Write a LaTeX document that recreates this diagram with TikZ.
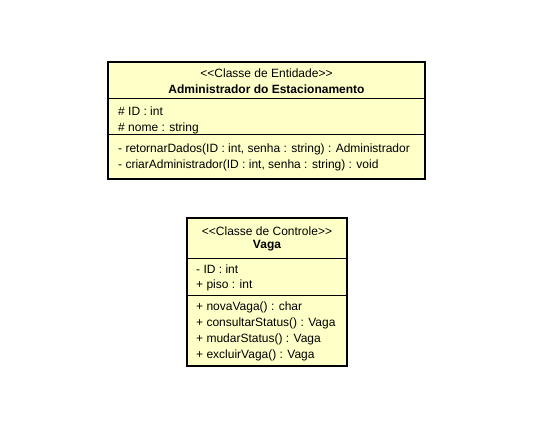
\documentclass[tikz,border=0pt]{standalone}
\usepackage{fontspec}
\setmainfont{Liberation Sans}
\usetikzlibrary{positioning,calc}
\definecolor{umlfill}{HTML}{FFFFC8}
\tikzset{cls/.style={draw=black,fill=umlfill,line width=1.6pt,inner sep=0pt},
 sep/.style={line width=0.8pt},
 ttl/.style={anchor=center,inner sep=0pt,font=\fontsize{12}{14}\selectfont},
 itm/.style={anchor=west,inner sep=0pt,font=\fontsize{12}{14}\selectfont}}

\begin{document}
\begin{tikzpicture}[x=1pt,y=-1pt]
\useasboundingbox(0,0)rectangle(543,431);
% entidade
\node[cls,minimum width=317pt,minimum height=117pt](adm) at(266.5,120.5){};
\draw[sep]($(adm.north west)+(0,37)$)--($(adm.north east)+(0,37)$);
\draw[sep]($(adm.north west)+(0,73)$)--($(adm.north east)+(0,73)$);
\node[ttl](admst) at(266.5,73){{<}{<}Classe de Entidade{>}{>}};
\node[ttl,font=\fontsize{12}{14}\selectfont\bfseries](admnm) at(266.5,89){Administrador do Estacionamento};
\node[itm](admat1) at(118,111){\# ID : int};
\node[itm](admat2) at(118,128){\# nome : string};
\node[itm](admop1) at(118,149){- retornarDados(ID : int, senha : string) : Administrador};
\node[itm](admop2) at(118,165){- criarAdministrador(ID : int, senha : string) : void};
% controle
\node[cls,minimum width=160pt,minimum height=148pt](vg) at(267,292){};
\draw[sep]($(vg.north west)+(0,41)$)--($(vg.north east)+(0,41)$);
\draw[sep]($(vg.north west)+(0,78)$)--($(vg.north east)+(0,78)$);
\node[ttl](vgst) at(267,231){{<}{<}Classe de Controle{>}{>}};
\node[ttl,font=\fontsize{12}{14}\selectfont\bfseries](vgnm) at(267,246){Vaga};
\node[itm](vgat1) at(196,269){- ID : int};
\node[itm](vgat2) at(196,285){+ piso : int};
\node[itm](vgop1) at(196,307){+ novaVaga() : char};
\node[itm](vgop2) at(196,323){+ consultarStatus() : Vaga};
\node[itm](vgop3) at(196,339){+ mudarStatus() : Vaga};
\node[itm](vgop4) at(196,355){+ excluirVaga() : Vaga};
\end{tikzpicture}
\end{document}
